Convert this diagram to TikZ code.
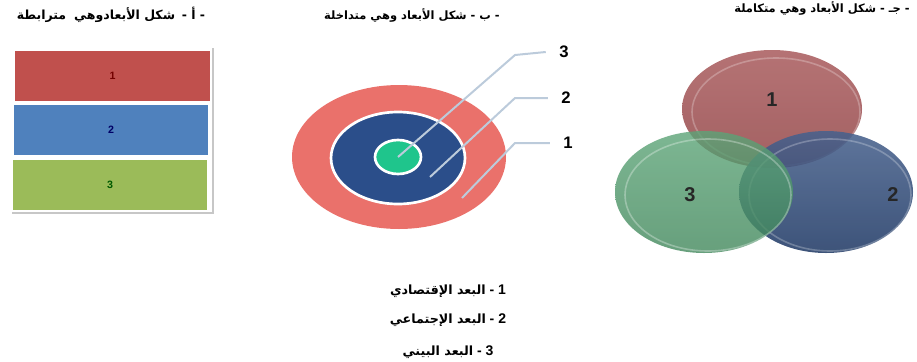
\documentclass[tikz,border=0pt]{standalone}
\usepackage{fontspec}
\setmainfont{Liberation Sans}
\newfontfamily\arabicfont[Script=Arabic]{DejaVu Sans}
\TeXXeTstate=1
\definecolor{barred}{HTML}{C0504D}
\definecolor{barblue}{HTML}{4F81BD}
\definecolor{bargreen}{HTML}{9BBB59}
\definecolor{ringred}{HTML}{EA716B}
\definecolor{ringblue}{HTML}{2B4E8A}
\definecolor{ringgreen}{HTML}{1FC58C}
\definecolor{leader}{HTML}{BCCBDB}
\definecolor{vred}{HTML}{A65658}
\definecolor{vgreen}{HTML}{4A9A68}
\definecolor{vblue}{HTML}{284679}
\tikzset{
  head/.style={font=\arabicfont\bfseries\fontsize{8.6}{10}\selectfont, inner sep=0pt},
  heada/.style={font=\arabicfont\bfseries\fontsize{9.4}{11}\selectfont, inner sep=0pt},
  legend/.style={font=\bfseries\fontsize{10.5}{12}\selectfont, inner sep=0pt, anchor=base},
  bar/.style={minimum width=146pt, minimum height=37.5pt, inner sep=0pt, font=\bfseries\fontsize{8}{9}\selectfont},
  lbl/.style={font=\bfseries\fontsize{12.5}{14}\selectfont, inner sep=0pt},
  vlbl/.style={font=\bfseries\fontsize{15}{17}\selectfont, inner sep=0pt, text=black!85},
  leaderline/.style={draw=leader, line width=1.5pt},
}
\newcommand{\legar}{\arabicfont\fontsize{9.5}{12}\selectfont}
\begin{document}
\begin{tikzpicture}[x=0.75pt,y=-0.75pt]
\useasboundingbox (0,0) rectangle (917,361);

% headings
\node[heada] (ha) at (111,15) {\beginR - أ -\hspace{5pt}شكل الأبعادوهي\hspace{6pt}مترابطة\endR};
\node[head] (hb) at (412,15) {\beginR - ب - شكل الأبعاد وهي متداخلة\endR};
\node[head, anchor=east] (hc) at (910,8) {\beginR - جـ - شكل الأبعاد وهي متكاملة\endR};

% panel a
\draw[black!22, line width=0.8pt] (12,213) -- (213,213) -- (213,48);
\node[bar, fill=barred, text=red!45!black] (r1) at (112.5,75.5) {1};
\node[bar, fill=barblue, text=blue!40!black] (r2) at (111,130) {2};
\node[bar, fill=bargreen, text=green!35!black] (r3) at (110,185) {3};

% panel b
\fill[ringred] (399,157) ellipse [x radius=107, y radius=72];
\filldraw[fill=ringblue, draw=white, line width=2pt] (398,158) ellipse [x radius=67, y radius=46];
\filldraw[fill=ringgreen, draw=white, line width=2pt] (398,157) ellipse [x radius=23, y radius=17];
\coordinate (p3) at (398,157);
\coordinate (p2) at (430,177);
\coordinate (p1) at (462,198);
\node[lbl] (l3) at (564,52) {3};
\node[lbl] (l2) at (566,98) {2};
\node[lbl] (l1) at (568,143) {1};
\draw[leaderline] (p3) -- (515,55) -- ([xshift=-10pt]l3.west);
\draw[leaderline] (p2) -- (515,98) -- ([xshift=-10pt]l2.west);
\draw[leaderline] (p1) -- (515,143) -- ([xshift=-10pt]l1.west);

% panel c
\shade[top color=vred!92!white, bottom color=vred!92!black, fill opacity=0.9] (772,109) ellipse [x radius=90, y radius=59];
\draw[white, opacity=0.25, line width=1.2pt] (776,112) ellipse [x radius=84, y radius=54];
\shade[top color=vblue!85!white, bottom color=vblue!85!black, fill opacity=0.88] (826,192) ellipse [x radius=87, y radius=61];
\draw[white, opacity=0.25, line width=1.2pt] (830,195) ellipse [x radius=81, y radius=56];
\shade[top color=vgreen!90!white, bottom color=vgreen!88!black, fill opacity=0.8] (704,192) ellipse [x radius=89, y radius=61];
\draw[white, opacity=0.3, line width=1.2pt] (708,195) ellipse [x radius=83, y radius=56];
\node[vlbl] (v1) at (772,100) {1};
\node[vlbl] (v3) at (690,195) {3};
\node[vlbl] (v2) at (893,195) {2};

% legend
\node[legend] (g1) at (448,294) {\beginR 1 - {\legar البعد الإقتصادي}\endR};
\node[legend] (g2) at (448,323) {\beginR 2 - {\legar البعد الإجتماعي}\endR};
\node[legend] (g3) at (448,355) {\beginR 3 - {\legar البعد البيني}\endR};
\end{tikzpicture}
\end{document}
